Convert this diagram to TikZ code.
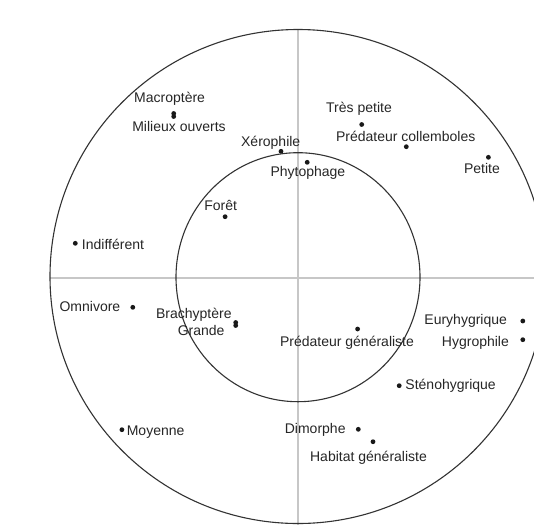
\documentclass[tikz,border=0pt]{standalone}
\usepackage{fontspec}
\setmainfont{Liberation Sans}
\begin{document}
\begin{tikzpicture}[x=1pt,y=-1pt,
  pt/.style={circle,fill=black!90,inner sep=0pt,minimum size=4.8pt},
  lab/.style={anchor=base,inner sep=0pt,font=\fontsize{14}{16}\selectfont,text=black!85},
  axis/.style={draw=black!22,line width=1.4pt},
  ring/.style={draw=black!80,line width=1.1pt}]
\useasboundingbox (0,0) rectangle (534,525);
\clip (0,0) rectangle (534,525);
\fill[white] (0,0) rectangle (534,525);
% axes
\coordinate (O) at (298,278);
\draw[axis] (50,278) -- (534,278);
\draw[axis] (298,29) -- (298,525);
% circles
\draw[ring] (298,276.5) ellipse [x radius=248, y radius=247];
\draw[ring] (298,277.2) ellipse [x radius=122, y radius=124.5];
% points
\node[pt] (pMac) at (173.7,113.5) {};
\node[pt] (pMil) at (173.7,116.5) {};
\node[pt] (pTres) at (361.7,124.5) {};
\node[pt] (pColl) at (406.3,146.7) {};
\node[pt] (pXer) at (281,151.3) {};
\node[pt] (pPhy) at (307.2,162.3) {};
\node[pt] (pPet) at (488.4,157.3) {};
\node[pt] (pFor) at (225.1,216.7) {};
\node[pt] (pInd) at (75.3,243.3) {};
\node[pt] (pOmn) at (132.8,307.3) {};
\node[pt] (pBra) at (235.7,322.5) {};
\node[pt] (pGra) at (235.7,325.5) {};
\node[pt] (pPgen) at (357.6,329) {};
\node[pt] (pEur) at (522.8,321) {};
\node[pt] (pHyg) at (522.8,339.7) {};
\node[pt] (pSte) at (399.2,385.7) {};
\node[pt] (pMoy) at (121.9,429.7) {};
\node[pt] (pDim) at (358.3,429.3) {};
\node[pt] (pHab) at (373,441.7) {};
% labels
\node[lab] (lMac) at (169.6,102.7) {Macroptère};
\node[lab] (lMil) at (179,131.7) {Milieux ouverts};
\node[lab] (lTres) at (359,112.3) {Très petite};
\node[lab] (lColl) at (405.7,141.7) {Prédateur collemboles};
\node[lab] (lXer) at (270.7,146.7) {Xérophile};
\node[lab] (lPhy) at (307.9,176.7) {Phytophage};
\node[lab] (lPet) at (482,173.3) {Petite};
\node[lab] (lFor) at (220.7,210) {Forêt};
\node[lab] (lInd) at (113,249.3) {Indifférent};
\node[lab] (lOmn) at (89.9,311.7) {Omnivore};
\node[lab] (lBra) at (193.8,318.3) {Brachyptère};
\node[lab] (lGra) at (201.1,335.3) {Grande};
\node[lab] (lPgen) at (347,346.7) {Prédateur généraliste};
\node[lab] (lEur) at (465.7,324.3) {Euryhygrique};
\node[lab] (lHyg) at (475.4,346.7) {Hygrophile};
\node[lab] (lSte) at (450.6,389) {Sténohygrique};
\node[lab] (lMoy) at (155.6,435) {Moyenne};
\node[lab] (lDim) at (315.2,433.3) {Dimorphe};
\node[lab] (lHab) at (368.5,461.7) {Habitat généraliste};
\end{tikzpicture}
\end{document}
